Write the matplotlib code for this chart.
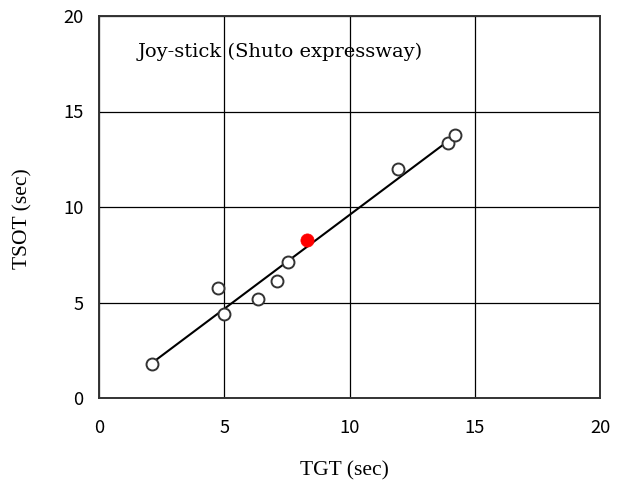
import numpy as np
import matplotlib
matplotlib.use("Agg")
import matplotlib.pyplot as plt

# Joy-stick trials: task-gaze time vs. total-sight-off time (seconds)
tgt = [2.1, 4.75, 5.0, 6.35, 7.1, 7.55, 11.95, 13.95, 14.2]
tsot = [1.8, 5.75, 4.4, 5.2, 6.15, 7.1, 12.0, 13.35, 13.75]
highlight_tgt = [8.3]
highlight_tsot = [8.25]

ticks = [0, 5, 10, 15, 20]
tick_labels = ["0", "5", "10", "15", "20"]

fig = plt.figure(figsize=(6.22, 4.93), dpi=100)
ax = fig.add_axes([99 / 622, 1 - 398 / 493, 501 / 622, 382 / 493])

ax.set_xlim(0, 20)
ax.set_ylim(0, 20)
ax.set_xticks(ticks)
ax.set_yticks(ticks)
ax.set_xticklabels(tick_labels)
ax.set_yticklabels(tick_labels)
ax.grid(True, color="black", linewidth=0.9)
ax.set_axisbelow(True)
for s in ax.spines.values():
    s.set_linewidth(1.4)
    s.set_color("#333333")

for lab in ax.get_xticklabels() + ax.get_yticklabels():
    lab.set_fontfamily(["Noto Sans CJK JP", "DejaVu Sans"])
    lab.set_fontsize(13.2)
ax.tick_params(axis="x", length=0, pad=15)
ax.tick_params(axis="y", length=0, pad=11)

# least-squares fit over the open-circle trials
slope, intercept = np.polyfit(tgt, tsot, 1)
xf = np.array([min(tgt), max(tgt)])
ax.plot(xf, slope * xf + intercept, color="black", linewidth=1.5, zorder=3)

ax.plot(tgt, tsot, linestyle="none", marker="o", markersize=8.6,
        markerfacecolor="white", markeredgecolor="#333333",
        markeredgewidth=1.4, zorder=4)
ax.plot(highlight_tgt, highlight_tsot, linestyle="none", marker="o",
        markersize=9.5, markerfacecolor="#ff0000", markeredgecolor="#ff0000",
        markeredgewidth=0.5, zorder=5)

ax.text(1.55, 18.1, "Joy-stick (Shuto expressway)", family=["DejaVu Serif"],
        fontsize=14, ha="left", va="center")

label_font = ["Liberation Serif", "DejaVu Serif"]
ax.set_xlabel("TGT (sec)", family=label_font, fontsize=15.5)
ax.set_ylabel("TSOT (sec)", family=label_font, fontsize=15.5)
ax.xaxis.set_label_coords(0.49, -0.19)
ax.yaxis.set_label_coords(-0.152, 0.47)
ax.xaxis.label.set_va("center")
ax.yaxis.label.set_va("center")

fig.savefig("out.png", dpi=100)
